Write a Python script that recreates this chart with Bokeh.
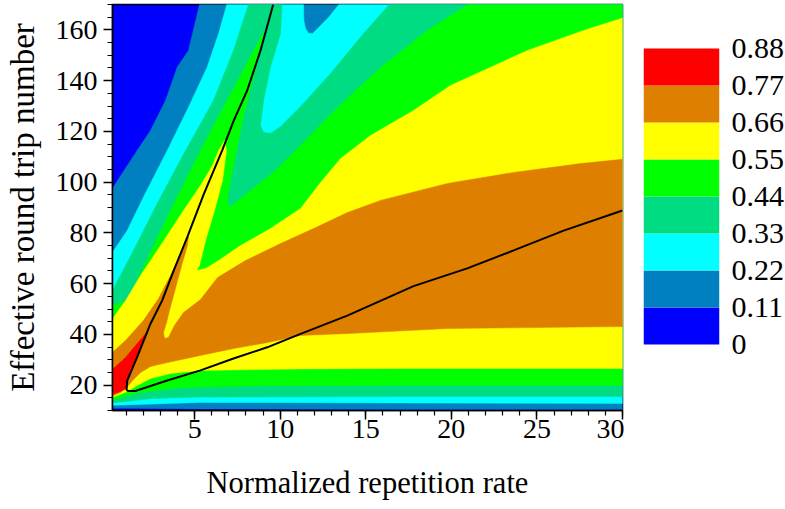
from bokeh.plotting import figure
from bokeh.models import Range1d, SingleIntervalTicker, FixedTicker, ColumnDataSource
from bokeh.layouts import row
from bokeh.embed import file_html
from bokeh.resources import INLINE

# ---- contour levels and band colours ----
levels = [0, 0.11, 0.22, 0.33, 0.44, 0.55, 0.66, 0.77, 0.88]
level_labels = ["0", "0.11", "0.22", "0.33", "0.44", "0.55", "0.66", "0.77", "0.88"]
band_colors = ["#0000FF", "#0080C0", "#00FFFF", "#00DC82", "#00FF00", "#FFFF00", "#DF7F00", "#FF0000"]

# ---- boundaries of the regions z >= level ----
# z >= 0.11
a_x = [0.0, 1.64, 2.42, 3.30, 3.98, 4.64, 5.32, 30.4, 30.4, 17.0, 5.3, 1.25, 0.0]
a_y = [95.5, 112.5, 120.3, 132.2, 145.3, 151.9, 171, 171, 10.4, 10.4, 10.6, 10.9, 10.9]
# z >= 0.22
b_x = [0.0, 1.06, 2.01, 3.40, 4.64, 5.73, 6.40, 6.92, 11.36, 11.38, 11.48, 11.66, 11.89, 12.24, 12.82, 13.55,
       30.4, 30.4, 17.0, 5.3, 1.84, 0.0]
b_y = [70.4, 80.9, 94.1, 112.5, 129.5, 145.3, 158.6, 171, 171, 163.7, 160.5, 158.6, 158.6, 160.9, 164.9, 171,
       171, 12.8, 13.0, 13.2, 12.4, 12.0]
# z >= 0.33
c_x = [0.0, 1.43, 2.81, 4.47, 6.10, 7.27, 8.19, 10.12, 10.02, 9.43, 9.03, 8.85, 9.03, 9.43, 10.02, 11.19, 12.94,
       14.87, 16.50, 30.4, 30.4, 17.0, 5.3, 2.42, 0.96, 0.0]
c_y = [54.7, 73.1, 91.6, 112.5, 132.2, 151.9, 171, 171, 158.6, 145.3, 132.2, 122.3, 119.6, 119.2, 121.9, 129.8, 142.8,
       158.6, 171, 171, 15.5, 15.5, 15.3, 14.7, 13.5, 12.9]
# z >= 0.44
d_x = [0.0, 1.06, 2.01, 3.59, 5.34, 7.21, 9.03, 8.38, 7.80, 7.45, 7.10, 6.92, 7.04, 8.27, 9.73, 10.90, 13.35,
       15.86, 18.61, 21.2, 30.4, 30.4, 17.0, 8.27, 4.17, 1.84, 0.0]
d_y = [51.0, 53.3, 66.5, 88.8, 112.5, 136.1, 159.0, 140.0, 124.3, 112.5, 100.6, 92.8, 90.0, 96.7, 104.6, 112.5, 129.4,
       145.2, 159.8, 171, 171, 19.9, 19.9, 19.7, 19.1, 17.1, 13.7]
# z >= 0.55
e_x = [0.0, 0.96, 1.84, 3.01, 4.35, 5.34, 6.04, 6.40, 6.75, 6.86, 6.63, 6.16, 5.64, 5.28, 5.11, 5.64, 6.22, 7.68,
       9.43, 11.19, 12.36, 13.53, 15.28, 17.79, 19.95, 21.88, 24.45, 27.73, 30.4, 30.4, 17.0, 11.19, 5.34, 3.59,
       2.42, 1.54, 1.08, 0.0]
e_y = [44.3, 53.3, 63.2, 75.0, 88.8, 98.7, 106.6, 112.5, 116.4, 112.5, 100.6, 88.8, 77.0, 67.1, 65.2, 66.0, 68.3,
       75.0, 81.7, 89.6, 99.9, 109.3, 118.4, 128.2, 138.1, 144.0, 151.9, 159.8, 165.5, 26.6, 26.6, 26.4, 25.8, 24.6,
       22.6, 19.5, 17.5, 14.7]
# z >= 0.66
f_x = [0.0, 0.96, 2.01, 2.89, 3.59, 4.17, 4.64, 4.58, 4.29, 4.00, 3.77, 3.53, 3.36, 3.18, 3.24, 3.47, 3.82, 4.35,
       5.34, 6.34, 7.97, 10.02, 11.95, 13.93, 15.86, 19.78, 23.64, 27.55, 30.4, 30.4, 19.78, 13.93, 11.19, 9.26,
       7.27, 5.34, 3.41, 2.42, 1.84, 1.37, 1.08, 0.67, 0.0]
f_y = [31.7, 37.6, 45.5, 54.1, 63.2, 71.1, 78.6, 75.0, 68.3, 61.2, 55.3, 49.4, 44.7, 40.7, 38.4, 38.8, 43.5, 48.6,
       53.7, 62.4, 69.1, 75.8, 81.7, 88.0, 92.8, 99.5, 103.8, 107.3, 109.3, 43.1, 42.3, 40.3, 39.6, 36.8, 34.4,
       31.7, 28.9, 27.3, 25.0, 21.8, 19.5, 17.1, 15.1]
# z >= 0.77
g_x = [2.18, 1.54, 0.96, 0.0, 0.0, 0.67, 1.0, 1.04, 1.60, 2.12]
g_y = [40.6, 35.6, 30.9, 25.0, 15.9, 17.5, 18.7, 21.8, 31.0, 39.6]

# ---- black curve ----
line_x = [9.59, 8.85, 8.07, 7.29, 6.61, 5.54, 4.57, 3.78, 3.10, 2.42, 1.64, 1.06, 1.02, 1.11, 1.54, 3.40, 5.34,
          7.27, 9.24, 11.19, 13.92, 17.79, 20.93, 23.64, 26.56, 30.0]
line_y = [170, 151.9, 136.1, 124.3, 112.5, 95.4, 78.3, 65.2, 53.3, 44.2, 31.0, 21.8, 18.2, 17.7, 17.7, 21.8, 25.8,
          30.5, 34.9, 40.2, 47.4, 59.0, 66.0, 73.1, 80.9, 88.8]

FONT = "'Liberation Serif'"

p = figure(frame_width=510, frame_height=406, x_range=Range1d(0.2, 30), y_range=Range1d(10, 170),
           min_border_left=112, min_border_right=2, min_border_top=4, min_border_bottom=99,
           toolbar_location=None, output_backend="svg", background_fill_color=band_colors[0])

region_xs = [a_x, b_x, c_x, d_x, e_x, f_x, g_x]
region_ys = [a_y, b_y, c_y, d_y, e_y, f_y, g_y]
src = ColumnDataSource(dict(xs=region_xs, ys=region_ys, color=band_colors[1:]))
p.patches("xs", "ys", source=src, fill_color="color", line_color="color", line_width=0.5)

p.line(line_x, line_y, line_color="black", line_width=2)

p.grid.visible = False
p.outline_line_color = "black"
p.outline_line_width = 1.5

p.xaxis.ticker = SingleIntervalTicker(interval=5, num_minor_ticks=5)
p.yaxis.ticker = SingleIntervalTicker(interval=20, num_minor_ticks=4)
p.xaxis.axis_label = "Normalized repetition rate"
p.yaxis.axis_label = "Effective round trip number"
for ax in (p.xaxis[0], p.yaxis[0]):
    ax.axis_line_width = 1.5
    ax.axis_line_color = "black"
    ax.major_tick_line_color = "black"
    ax.minor_tick_line_color = "black"
    ax.major_tick_line_width = 1.5
    ax.minor_tick_line_width = 1.2
    ax.major_tick_in = 0
    ax.major_tick_out = 9
    ax.minor_tick_in = 0
    ax.minor_tick_out = 5
    ax.major_label_text_font = FONT
    ax.major_label_text_font_size = "28px"
    ax.major_label_text_color = "black"
    ax.axis_label_text_font = FONT
    ax.axis_label_text_font_style = "normal"
    ax.axis_label_text_color = "black"
p.xaxis.major_label_standoff = 0
p.yaxis.major_label_standoff = 6
p.xaxis.axis_label_text_font_size = "30.5px"
p.yaxis.axis_label_text_font_size = "33px"
p.xaxis.axis_label_standoff = 25
p.yaxis.axis_label_standoff = 12

# ---- colour bar: a narrow figure whose frame lines up with the main frame ----
bar_px_top, bar_px_len, frame_px = 44, 296, 406          # bar starts 44 px below the frame top
per_px = levels[-1] / bar_px_len
cb_hi = levels[-1] + bar_px_top * per_px
cb_lo = -(frame_px - bar_px_top - bar_px_len) * per_px
cb = figure(frame_width=76, frame_height=406, x_range=Range1d(0, 1), y_range=Range1d(cb_lo, cb_hi),
            y_axis_location="right", min_border_left=19, min_border_top=4, min_border_bottom=99,
            min_border_right=66, toolbar_location=None, output_backend="svg")
cb_src = ColumnDataSource(dict(bottom=levels[:-1], top=levels[1:], color=band_colors))
cb.quad(left=0, right=1, bottom="bottom", top="top", fill_color="color", line_color=None, source=cb_src)
cb.grid.visible = False
cb.outline_line_color = None
cb.xaxis.visible = False
cb.yaxis.ticker = FixedTicker(ticks=levels)
cb.yaxis.major_label_overrides = {lv: lb for lv, lb in zip(levels, level_labels)}
cb.yaxis.axis_line_color = None
cb.yaxis.major_tick_line_color = None
cb.yaxis.minor_tick_line_color = None
cb.yaxis.major_tick_out = 0
cb.yaxis.major_label_standoff = 12
cb.yaxis.major_label_text_font = FONT
cb.yaxis.major_label_text_font_size = "30px"
cb.yaxis.major_label_text_color = "black"

layout = row(p, cb)
open("out.html", "w").write(file_html(layout, INLINE))
